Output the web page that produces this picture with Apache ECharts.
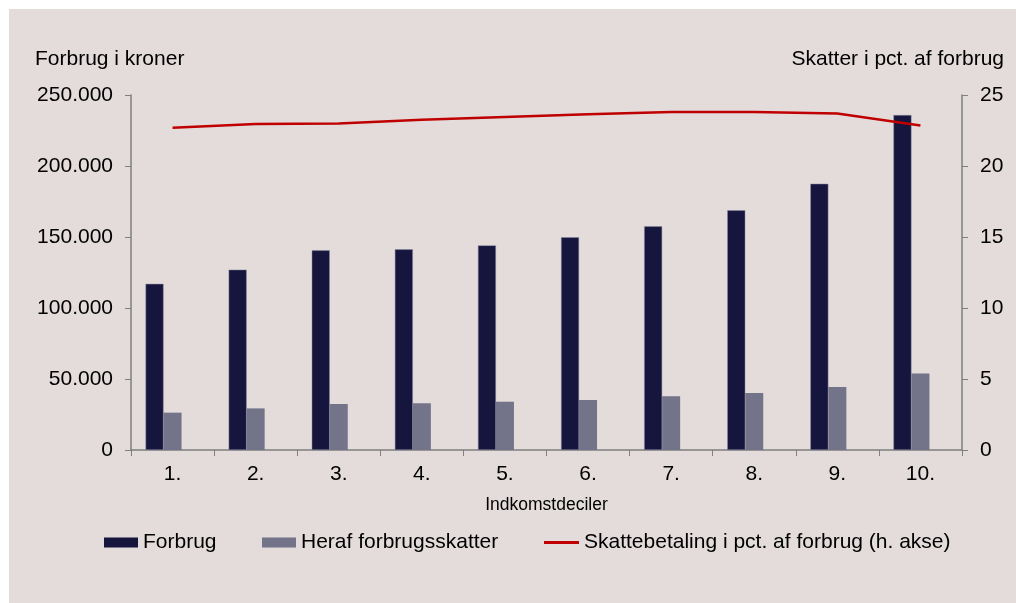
<!DOCTYPE html>
<html>
<head>
	<meta charset="utf-8">
	<title>Forbrug og forbrugsskatter</title>
	<script src="https://cdn.jsdelivr.net/npm/echarts@6/dist/echarts.min.js"></script>
	<style type="text/css">
		html, body { margin: 0; padding: 0; background: #fff; }
		#chart {
			position: absolute;
			left: 9px; top: 9px;
			width: 1007px; height: 594px;
			background: #E3DCDB;
		}
	</style>
</head>
<body>

<div id="chart"></div>

<script type="text/javascript">

	// ========== data
	var deciler = ['1.', '2.', '3.', '4.', '5.', '6.', '7.', '8.', '9.', '10.'];
	var forbrug = [117000, 127000, 140600, 141300, 144100, 149800, 157500, 168800, 187500, 235900];
	var forbrugsskatter = [26300, 29300, 32400, 32900, 34000, 35200, 37800, 40100, 44400, 53800];
	var skatPct = [22.7, 22.95, 23.0, 23.25, 23.45, 23.65, 23.8, 23.8, 23.7, 22.85];
	var tomSerie = [null, null, null, null, null, null, null, null, null, null]; // tom plads til 3. soejle

	var FONT = 'Liberation Sans, Arial, sans-serif';

	function tusind(v) {
		return String(v).replace(/\B(?=(\d{3})+(?!\d))/g, '.');
	}

	var legendTekst = { fontSize: 21, color: '#000', padding: [0, 0, 0, 0] };

	var myChart = echarts.init(document.getElementById('chart'));
	var option = {
		animation: false,
		textStyle: { fontFamily: FONT, color: '#000' },
		title: [
			{ text: 'Forbrug i kroner', left: 21, top: 35,
				textStyle: { fontSize: 21, fontWeight: 'normal', color: '#000' } },
			{ text: 'Skatter i pct. af forbrug', right: 7, top: 35,
				textStyle: { fontSize: 21, fontWeight: 'normal', color: '#000' } }
		],
		legend: [
			{ data: [{ name: 'Forbrug', icon: 'rect' }], left: 90, top: 518, itemWidth: 34, itemHeight: 10,
				itemStyle: { borderWidth: 0 }, textStyle: legendTekst },
			{ data: [{ name: 'Heraf forbrugsskatter', icon: 'rect' }], left: 248, top: 518, itemWidth: 34, itemHeight: 10,
				itemStyle: { borderWidth: 0 }, textStyle: legendTekst },
			{ data: [{ name: 'Skattebetaling i pct. af forbrug (h. akse)', icon: 'rect' }], left: 530, top: 518,
				itemWidth: 35, itemHeight: 3, textStyle: legendTekst }
		],
		grid: { left: 122, right: 54, top: 86, bottom: 153 },
		xAxis: {
			type: 'category',
			data: deciler,
			name: 'Indkomstdeciler',
			nameLocation: 'middle',
			nameGap: 46,
			nameTextStyle: { fontSize: 17.5, color: '#000' },
			axisLine: { lineStyle: { color: '#7f7f7f', width: 1.5 } },
			axisTick: { show: true, length: 6, lineStyle: { color: '#7f7f7f' } },
			axisLabel: { fontSize: 21, color: '#000', margin: 14 }
		},
		yAxis: [
			{
				type: 'value', min: 0, max: 250000, interval: 50000,
				axisLine: { show: true, lineStyle: { color: '#7f7f7f', width: 1.5 } },
				axisTick: { show: true, length: 6, lineStyle: { color: '#7f7f7f' } },
				splitLine: { show: false },
				axisLabel: { fontSize: 21, color: '#000', margin: 18, formatter: tusind }
			},
			{
				type: 'value', min: 0, max: 25, interval: 5, position: 'right',
				axisLine: { show: true, lineStyle: { color: '#7f7f7f', width: 1.5 } },
				axisTick: { show: true, length: 6, lineStyle: { color: '#7f7f7f' } },
				splitLine: { show: false },
				axisLabel: { fontSize: 21, color: '#000', margin: 18 }
			}
		],
		series: [
			{
				name: 'Forbrug', type: 'bar', data: forbrug,
				barWidth: 18, barGap: '0%',
				itemStyle: { color: '#16153D', borderColor: '#8a8aa0', borderWidth: 0.5 }
			},
			{
				name: 'Heraf forbrugsskatter', type: 'bar', data: forbrugsskatter,
				barWidth: 18, barGap: '0%',
				itemStyle: { color: '#737389' }
			},
			{
				name: '', type: 'bar', data: tomSerie,
				barWidth: 18, barGap: '0%'
			},
			{
				name: 'Skattebetaling i pct. af forbrug (h. akse)', type: 'line', yAxisIndex: 1,
				data: skatPct, symbol: 'none',
				lineStyle: { color: '#C00000', width: 2.5 },
				itemStyle: { color: '#C00000' }
			}
		]
	};
	myChart.setOption(option);

	window.onresize = function() {
		myChart.resize();
	};

</script>

</body>
</html>
